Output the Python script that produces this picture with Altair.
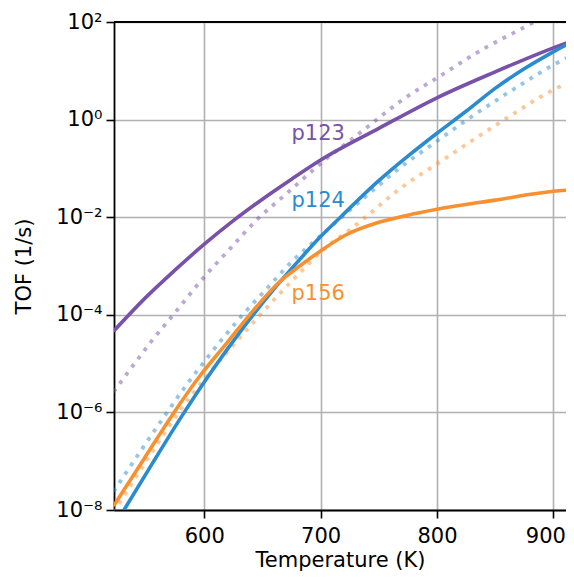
import json
import altair as alt
import pandas as pd

# ---------------- data ----------------
compounds = ["p123", "p124", "p156"]
colors = ["#7851a9", "#2a8bd0", "#f8902f"]

# solid curves
p123_T = [522, 550, 575, 600, 625, 650, 675, 700, 750, 800, 850, 900, 920]
p123_tof = [4.6e-5, 2.3e-4, 8.3e-4, 2.8e-3, 8.5e-3, 2.34e-2, 6.0e-2, 0.148, 0.66, 2.8, 9.5, 29.5, 44.7]

p124_T = [522, 531, 555, 580, 600, 620, 642, 660, 680, 700, 717, 750, 775, 800, 825, 850, 875, 900, 920]
p124_tof = [4.4e-9, 1.0e-8, 8.7e-8, 7.9e-7, 4.2e-6, 2.0e-5, 1.0e-4, 3.4e-4, 1.2e-3, 4.0e-3,
            1.0e-2, 5.6e-2, 0.178, 0.525, 1.48, 4.37, 11.0, 24.5, 43.7]

p156_T = [522, 548, 574, 596, 620, 639, 665, 682, 700, 722, 748, 775, 800, 850, 900, 920]
p156_tof = [1.2e-8, 1.1e-7, 1.0e-6, 5.5e-6, 2.75e-5, 1.0e-4, 4.8e-4, 1.0e-3, 2.04e-3, 4.37e-3,
            7.6e-3, 1.1e-2, 1.45e-2, 2.24e-2, 3.39e-2, 3.72e-2]

# dotted curves
p123d_T = [522, 540, 555, 575, 600, 622, 644, 672, 700, 735, 770, 805, 840, 870, 895]
p123d_tof = [2.63e-6, 1.0e-5, 2.95e-5, 1.12e-4, 6.0e-4, 2.24e-3, 8.3e-3, 3.24e-2, 0.126, 0.562,
             2.51, 8.5, 28.2, 67.6, 138]

p124d_T = [522, 545, 568, 584, 600, 633, 655, 674, 700, 718, 740, 768, 800, 826, 850, 875, 900, 920]
p124d_tof = [2.4e-8, 1.58e-7, 1.0e-6, 3.47e-6, 1.1e-5, 1.0e-4, 3.7e-4, 1.15e-3, 4.17e-3, 1.0e-2,
             2.82e-2, 0.102, 0.363, 1.0, 2.4, 5.75, 13.2, 22.9]

p156d_T = [522, 550, 578, 600, 625, 648, 682, 702, 725, 740, 768, 805, 858, 900, 920]
p156d_tof = [8.9e-9, 1.0e-7, 1.0e-6, 4.8e-6, 2.4e-5, 1.0e-4, 7.2e-4, 2.14e-3, 5.5e-3, 1.07e-2,
             3.8e-2, 0.148, 1.0, 4.07, 6.76]

# labels on the plot
label_text = ["p123", "p124", "p156"]
label_T = [675, 675, 675]
label_tof = [0.385, 0.016, 1.97e-4]

# axes
x_domain = [522.4, 910.9]
x_ticks = [600, 700, 800, 900]
y_domain = [1e-8, 1e2]
y_tick_values = [1e-8, 1e-6, 1e-4, 1e-2, 1e0, 1e2]
y_tick_labels = ["10⁻⁸", "10⁻⁶", "10⁻⁴", "10⁻²", "10⁰", "10²"]

# ---------------- tables ----------------
def frame(T, v, name):
    return pd.DataFrame({"T": T, "TOF": v, "compound": name})

solid = pd.concat([frame(p123_T, p123_tof, "p123"),
                   frame(p124_T, p124_tof, "p124"),
                   frame(p156_T, p156_tof, "p156")], ignore_index=True)
dotted = pd.concat([frame(p123d_T, p123d_tof, "p123"),
                    frame(p124d_T, p124d_tof, "p124"),
                    frame(p156d_T, p156d_tof, "p156")], ignore_index=True)
labels = pd.DataFrame({"T": label_T, "TOF": label_tof, "compound": label_text})
top = pd.DataFrame({"TOF": [y_domain[1]]})

FONT = "DejaVu Sans"
color_scale = alt.Scale(domain=compounds, range=colors)

label_expr = (json.dumps(y_tick_labels, ensure_ascii=False)
              + "[round((log(datum.value)/LN10 + 8)/2)]")

last_tick = x_ticks[-1]
x_enc = alt.X("T:Q",
              scale=alt.Scale(domain=x_domain, nice=False, zero=False),
              axis=alt.Axis(values=x_ticks, format="d", title="Temperature (K)",
                            grid=True, titleY=56, titleBaseline="alphabetic",
                            labelPadding=7,
                            labelOffset={"condition": {"test": f"datum.value == {last_tick}",
                                                       "value": -8},
                                         "value": 0}))
y_enc = alt.Y("TOF:Q",
              scale=alt.Scale(type="log", domain=y_domain, nice=False),
              axis=alt.Axis(values=y_tick_values, labelExpr=label_expr,
                            title="TOF (1/s)", grid=True, labelPadding=4,
                            titleX=-90, titleY=244, titleBaseline="middle",
                            titleAlign="center"))

dotted_layer = alt.Chart(dotted).mark_line(
    clip=True, strokeWidth=3.8, strokeDash=[3.8, 6.4], strokeCap="butt",
    opacity=0.5, interpolate="monotone"
).encode(x=x_enc, y=y_enc,
         color=alt.Color("compound:N", scale=color_scale, legend=None),
         detail="compound:N")

solid_layer = alt.Chart(solid).mark_line(
    clip=True, strokeWidth=3.6, interpolate="monotone"
).encode(x=x_enc, y=y_enc,
         color=alt.Color("compound:N", scale=color_scale, legend=None),
         detail="compound:N")

text_layer = alt.Chart(labels).mark_text(
    align="left", baseline="alphabetic", fontSize=21, font=FONT
).encode(x="T:Q", y="TOF:Q", text="compound:N",
         color=alt.Color("compound:N", scale=color_scale, legend=None))

top_rule = alt.Chart(top).mark_rule(color="black", strokeWidth=1.8).encode(y="TOF:Q")

chart = alt.layer(dotted_layer, solid_layer, text_layer, top_rule).properties(
    width=452, height=488,
    autosize=alt.AutoSizeParams(type="none"),
    padding={"left": 106, "top": 14, "right": 0, "bottom": 61},
).configure_view(strokeWidth=0).configure_axis(
    labelFont=FONT, titleFont=FONT, labelFontSize=21, titleFontSize=21,
    labelColor="black", titleColor="black", titleFontWeight="normal",
    domainColor="black", domainWidth=1.8, tickColor="black", tickWidth=1.6,
    tickSize=8, gridColor="#b0b0b0", gridWidth=1.6,
)

chart.save("out.html", embed_options={"renderer": "svg", "actions": False})
